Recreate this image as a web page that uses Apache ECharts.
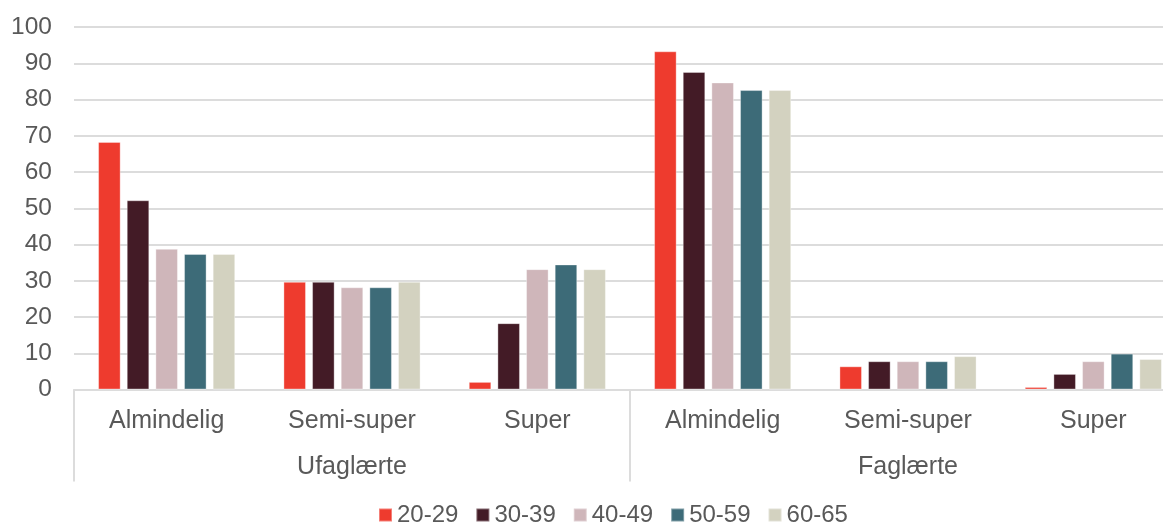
<!DOCTYPE html>
<html>
<head>
<meta charset="utf-8">
<script src="https://cdn.jsdelivr.net/npm/echarts@6/dist/echarts.min.js"></script>
<style>
  html, body { margin: 0; padding: 0; background: #ffffff; }
  #chart { width: 1163px; height: 525px; }
</style>
</head>
<body>
<div id="chart"></div>
<script>
// Job types within each education group
const jobTypes = ['Almindelig', 'Semi-super', 'Super', 'Almindelig', 'Semi-super', 'Super'];
// Education groups (second axis level)
const groups = ['Ufaglærte', 'Faglærte'];
// Age bands
const ageBands = ['20-29', '30-39', '40-49', '50-59', '60-65'];

// Share (%) per age band, in jobTypes order
const age20to29 = [68.3, 29.7, 2.1, 93.3, 6.4, 0.7];
const age30to39 = [52.2, 29.7, 18.3, 87.6, 7.8, 4.3];
const age40to49 = [38.8, 28.2, 33.2, 84.7, 7.8, 7.8];
const age50to59 = [37.4, 28.2, 34.5, 82.6, 7.8, 9.9];
const age60to65 = [37.4, 29.7, 33.2, 82.6, 9.2, 8.4];

const yTicks = { min: 0, max: 100, interval: 10 };

const seriesValues = [age20to29, age30to39, age40to49, age50to59, age60to65];
const colors = ['#EE3B2E', '#431B26', '#CFB6BA', '#3D6B78', '#D3D2C0'];

const textColor = '#595959';
const gridColor = '#DCDCDC';
const fontFamily = '"Liberation Sans", Arial, sans-serif';

const chart = echarts.init(document.getElementById('chart'), null, { renderer: 'canvas' });

chart.setOption({
  animation: false,
  backgroundColor: '#ffffff',
  color: colors,
  textStyle: { fontFamily: fontFamily },
  // the plot runs a little past the right edge of the canvas
  grid: { left: 74, top: 27, width: 1112, height: 362.5, outerBoundsMode: 'none', containLabel: false },
  legend: {
    data: ageBands,
    left: 378,
    top: 503,
    padding: 0,
    itemWidth: 13,
    itemHeight: 13,
    itemGap: 17,
    icon: 'rect',
    textStyle: { color: textColor, fontSize: 24, fontFamily: fontFamily }
  },
  xAxis: [
    {
      type: 'category',
      data: jobTypes,
      position: 'bottom',
      axisLine: { show: true, lineStyle: { color: gridColor, width: 2 } },
      axisTick: { show: false },
      axisLabel: { color: textColor, fontSize: 25, margin: 19, fontFamily: fontFamily }
    },
    {
      type: 'category',
      data: groups,
      position: 'bottom',
      axisLine: { show: false },
      axisTick: { show: true, length: 92, lineStyle: { color: gridColor, width: 2 } },
      axisLabel: { color: textColor, fontSize: 25, margin: 65, fontFamily: fontFamily },
      splitLine: { show: false }
    }
  ],
  yAxis: {
    type: 'value',
    min: yTicks.min,
    max: yTicks.max,
    interval: yTicks.interval,
    axisLine: { show: false },
    axisTick: { show: false },
    axisLabel: { color: textColor, fontSize: 24.5, margin: 22, fontFamily: fontFamily },
    splitLine: { lineStyle: { color: gridColor, width: 2 } }
  },
  series: ageBands.map((name, i) => ({
    name: name,
    type: 'bar',
    xAxisIndex: 0,
    data: seriesValues[i],
    barGap: '27%',
    barCategoryGap: '26%',
    itemStyle: { color: colors[i], borderColor: 'rgba(255,255,255,0.35)', borderWidth: 1 }
  }))
});
</script>
</body>
</html>
